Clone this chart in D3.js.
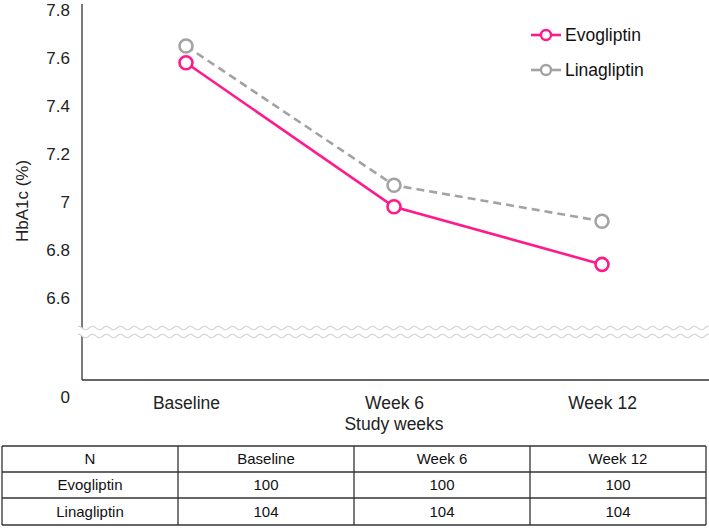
<!DOCTYPE html>
<html><head><meta charset="utf-8">
<script src="https://cdn.jsdelivr.net/npm/d3@7"></script>
<style>body{margin:0;background:#fff}svg{display:block}text{font-family:"Liberation Sans",Arial,sans-serif}</style>
</head><body>
<svg id="c" width="709" height="528"></svg>
<script>
const categories = ["Baseline","Week 6","Week 12"];
const evogliptin = [7.58, 6.98, 6.74];
const linagliptin = [7.65, 7.07, 6.92];
const yTicks = [0, 6.6, 6.8, 7, 7.2, 7.4, 7.6, 7.8];
const tableHeader = ["N","Baseline","Week 6","Week 12"];
const tableRows = [["Evogliptin",100,100,100],["Linagliptin",104,104,104]];
const seriesNames = ["Evogliptin","Linagliptin"];

const svg = d3.select("#c");
const pink = "#ff1a8c", grey = "#a3a3a3";
const x = d3.scalePoint().domain(categories).range([82,706]).padding(0.5);
const y = d3.scaleLinear().domain([0,6.6,7.8]).range([397,298,10]);
const axisLeft = 82, axisBottom = 380, axisTop = 4;

// axes lines
svg.append("line").attr("x1",axisLeft).attr("x2",axisLeft).attr("y1",axisTop).attr("y2",axisBottom).attr("stroke","#333").attr("stroke-width",1.3);
svg.append("line").attr("x1",axisLeft).attr("x2",709).attr("y1",axisBottom).attr("y2",axisBottom).attr("stroke","#333").attr("stroke-width",1.3);

// break waves
const waveGen = (y0)=>{const pts=[];for(let px=axisLeft-4;px<=712;px+=1){pts.push([px,y0+1.8*Math.sin((px-axisLeft)/14*2*Math.PI)]);}return d3.line()(pts);};
svg.append("rect").attr("x",axisLeft-4).attr("y",328).attr("width",632).attr("height",8).attr("fill","#fff");
[328,336].forEach(w=>svg.append("path").attr("d",waveGen(w)).attr("fill","none").attr("stroke","#d4d4d4").attr("stroke-width",1.2));

// y ticks
const ya = d3.axisLeft(y).tickValues(yTicks).tickSize(0).tickPadding(12).tickFormat(d=>d===0?"0":d3.format("")(d));
const gy = svg.append("g").attr("transform",`translate(${axisLeft},0)`).call(ya);
gy.select(".domain").remove();
gy.selectAll("text").attr("font-size",17).attr("fill","#222").style("font-family",'"Liberation Sans",Arial,sans-serif');

// x ticks
const xa = d3.axisBottom(x).tickSize(0).tickPadding(17);
const gx = svg.append("g").attr("transform",`translate(0,${axisBottom})`).call(xa);
gx.select(".domain").remove();
gx.selectAll("text").attr("font-size",17.5).attr("fill","#222").style("font-family",'"Liberation Sans",Arial,sans-serif');

svg.append("text").attr("transform","translate(28,201) rotate(-90)").attr("text-anchor","middle").attr("font-size",17).attr("fill","#222").text("HbA1c (%)");
svg.append("text").attr("x",394).attr("y",430).attr("text-anchor","middle").attr("font-size",17.5).attr("fill","#222").text("Study weeks");

// series
const line = d3.line().x((d,i)=>x(categories[i])).y(d=>y(d));
const series = [{name:seriesNames[0],vals:evogliptin,color:pink,dash:null},{name:seriesNames[1],vals:linagliptin,color:grey,dash:"8,5"}];
series.slice().reverse().forEach(s=>{
  svg.append("path").attr("d",line(s.vals)).attr("fill","none").attr("stroke",s.color).attr("stroke-width",2.6).attr("stroke-dasharray",s.dash);
  svg.selectAll(null).data(s.vals).enter().append("circle").attr("cx",(d,i)=>x(categories[i])).attr("cy",d=>y(d)).attr("r",6.5).attr("fill","#fff").attr("stroke",s.color).attr("stroke-width",2.6);
});

// legend
series.forEach((s,i)=>{
  const ly = 35 + i*35;
  svg.append("line").attr("x1",531).attr("x2",561).attr("y1",ly).attr("y2",ly).attr("stroke",s.color).attr("stroke-width",2.6);
  svg.append("circle").attr("cx",546).attr("cy",ly).attr("r",5).attr("fill","#fff").attr("stroke",s.color).attr("stroke-width",2.4);
  svg.append("text").attr("x",565).attr("y",ly).attr("dy","0.36em").attr("font-size",17.5).attr("fill","#111").text(s.name);
});

// table
const tx0=2, tx1=706, rowY=[446,472,498,525];
const colX = d3.scaleBand().domain(d3.range(4)).range([tx0,tx1]);
const tg = svg.append("g");
rowY.forEach(r=>tg.append("line").attr("x1",tx0).attr("x2",tx1).attr("y1",r).attr("y2",r).attr("stroke","#333").attr("stroke-width",1.3));
d3.range(5).forEach(c=>{const cx = c<4?colX(c):tx1; tg.append("line").attr("x1",cx).attr("x2",cx).attr("y1",rowY[0]).attr("y2",rowY[3]).attr("stroke","#333").attr("stroke-width",1.3);});
const allRows=[tableHeader].concat(tableRows);
allRows.forEach((row,ri)=>{
  row.forEach((cell,ci)=>{
    tg.append("text").attr("x",colX(ci)+colX.bandwidth()/2).attr("y",(rowY[ri]+rowY[ri+1])/2).attr("dy","0.36em").attr("text-anchor","middle").attr("font-size",15).attr("fill","#111").text(cell);
  });
});
</script>
</body></html>
